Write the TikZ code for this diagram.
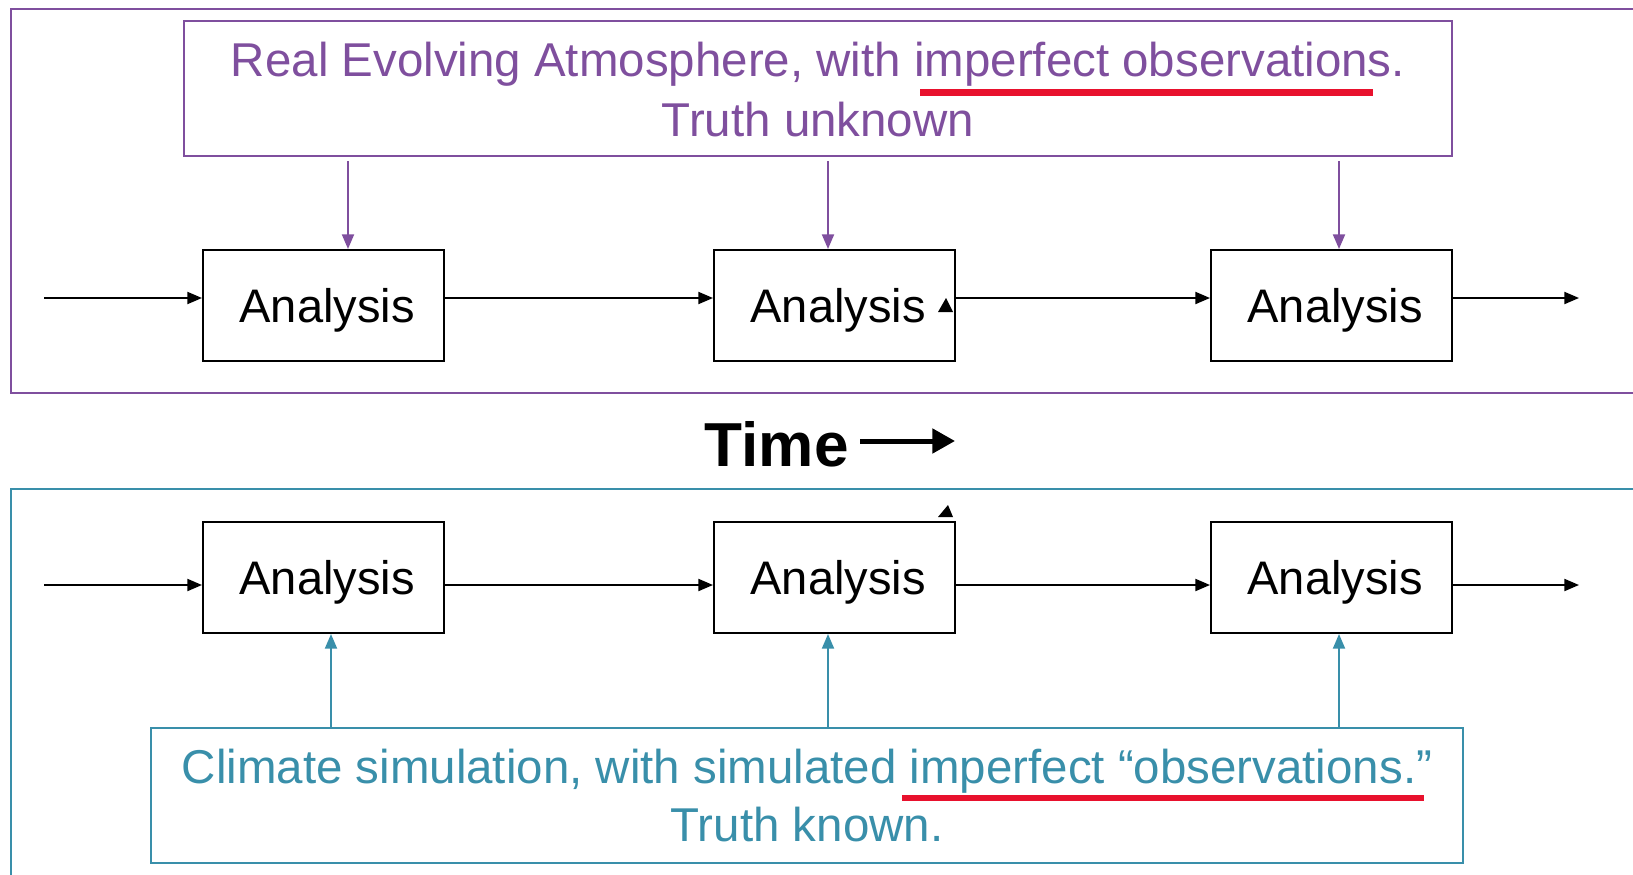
\documentclass[tikz,border=0pt]{standalone}
\usepackage{fontspec}
\setmainfont{Liberation Sans}
\usetikzlibrary{arrows.meta,calc}
\definecolor{atmo}{RGB}{127,79,158}
\definecolor{clim}{RGB}{57,143,170}
\definecolor{mark}{RGB}{232,17,45}
% label of an analysis box: baseline set a little below the box centre
\newcommand{\anlabel}{\hspace*{5.4pt}\raisebox{-13.1pt}[0pt][0pt]{Analysis}}
\tikzset{
  px/.style={x=0.75pt,y=-0.75pt},
  anbox/.style={draw=black,line width=1.5pt,minimum width=180.75pt,minimum height=83.25pt,inner sep=0pt,
    font=\fontsize{35.3}{40}\selectfont},
  flow/.style={line width=1.5pt,-{Triangle[length=11pt,width=9pt]}},
  frame/.style={line width=2pt},
  caption/.style={anchor=base,inner sep=0pt,font=\fontsize{35.6}{42}\selectfont},
  underline/.style={draw=mark,line width=5pt},
}
\begin{document}
\begin{tikzpicture}[px]
\useasboundingbox (0,0) rectangle (1633,874);
\clip (0,0) rectangle (1633,874);

% outer frames (running off the right and bottom edges)
\draw[frame,draw=atmo] (11,9) rectangle (1680,393);
\draw[frame,draw=clim] (11,489) rectangle (1680,920);

% top: real atmosphere
\node[draw=atmo,line width=1.5pt,minimum width=951pt,minimum height=101.25pt,inner sep=0pt] (tb) at (818,88.5) {};
\draw[underline] (920,92.5) -- (1373,92.5);
\node[caption,text=atmo] (t1) at (818,76) {Real Evolving Atmosphere, with imperfect observations.};
\node[caption,text=atmo] (t2) at (818,136) {Truth unknown};

\node[anbox] (a1) at (323.5,305.5) {\anlabel};
\node[anbox] (a2) at (834.5,305.5) {\anlabel};
\node[anbox] (a3) at (1331.5,305.5) {\anlabel};

\coordinate (in1) at (44,298);
\coordinate (out1) at (1579,298);
\draw[flow] (in1) -- (a1.west |- in1);
\draw[flow] (a1.east |- in1) -- (a2.west |- in1);
\draw[flow] (a2.east |- in1) -- (a3.west |- in1);
\draw[flow] (a3.east |- in1) -- (out1);

\coordinate (d1) at (348,0);
\coordinate (d2) at (828,0);
\coordinate (d3) at (1339,0);
\draw[flow,draw=atmo,fill=atmo,shorten <=3pt] (tb.south -| d1) -- (a1.north -| d1);
\draw[flow,draw=atmo,fill=atmo,shorten <=3pt] (tb.south -| d2) -- (a2.north -| d2);
\draw[flow,draw=atmo,fill=atmo,shorten <=3pt] (tb.south -| d3) -- (a3.north -| d3);

\fill (938,312) -- (946,298) -- (953,312) -- cycle;

% time axis
\node[anchor=base east,inner sep=0pt,font=\fontsize{46.6}{50}\bfseries] (time) at (849,466) {Time};
\coordinate (tend) at (955,441);
\draw[line width=3.75pt,-{Triangle[length=17pt,width=18pt]}] (time.east |- tend) ++(11,0) -- (tend);

% bottom: climate simulation
\node[draw=clim,line width=1.5pt,minimum width=984pt,minimum height=101.25pt,inner sep=0pt] (bb) at (807,795.5) {};
\draw[underline] (902,798) -- (1424,798);
\node[caption,text=clim] (b1) at (807,783) {Climate simulation, with simulated imperfect “observations.”};
\node[caption,text=clim] (b2) at (807,841) {Truth known.};

\node[anbox] (c1) at (323.5,577.5) {\anlabel};
\node[anbox] (c2) at (834.5,577.5) {\anlabel};
\node[anbox] (c3) at (1331.5,577.5) {\anlabel};

\coordinate (in2) at (44,585);
\coordinate (out2) at (1579,585);
\draw[flow] (in2) -- (c1.west |- in2);
\draw[flow] (c1.east |- in2) -- (c2.west |- in2);
\draw[flow] (c2.east |- in2) -- (c3.west |- in2);
\draw[flow] (c3.east |- in2) -- (out2);

\coordinate (u1) at (331,0);
\coordinate (u2) at (828,0);
\coordinate (u3) at (1339,0);
\draw[flow,draw=clim,fill=clim] (bb.north -| u1) -- (c1.south -| u1);
\draw[flow,draw=clim,fill=clim] (bb.north -| u2) -- (c2.south -| u2);
\draw[flow,draw=clim,fill=clim] (bb.north -| u3) -- (c3.south -| u3);

\fill (938,517) -- (948,505) -- (953,517) -- cycle;
\end{tikzpicture}
\end{document}
